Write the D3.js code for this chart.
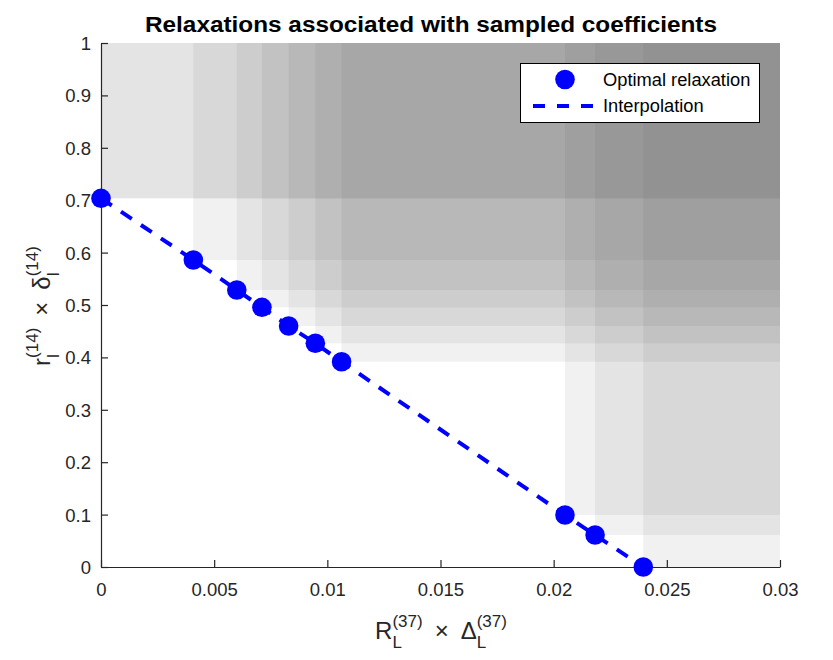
<!DOCTYPE html>
<html>
<head>
<meta charset="utf-8">
<script src="https://cdn.jsdelivr.net/npm/d3@7"></script>
<style>
  html, body { margin: 0; padding: 0; background: #fff; }
  svg { display: block; font-family: "Liberation Sans", Arial, Helvetica, sans-serif; }
</style>
</head>
<body>
<svg id="chart" width="833" height="660"></svg>
<script>
// ---------- data ----------
const relaxX = [0, 0.00408, 0.0060, 0.00711, 0.00829, 0.00947, 0.01063, 0.0205, 0.02183, 0.02396];
const relaxY = [0.7036, 0.5859, 0.5286, 0.4956, 0.4599, 0.4269, 0.3918, 0.0992, 0.061, 0];
// number of sampled coefficients associated with each relaxation
const sampleCounts = [2, 1, 1, 1, 1, 1, 1, 1, 1, 1];
const xTicks = [0, 0.005, 0.01, 0.015, 0.02, 0.025, 0.03];
const xTickLabels = ["0", "0.005", "0.01", "0.015", "0.02", "0.025", "0.03"];
const yTicks = [0, 0.1, 0.2, 0.3, 0.4, 0.5, 0.6, 0.7, 0.8, 0.9, 1];
const yTickLabels = ["0", "0.1", "0.2", "0.3", "0.4", "0.5", "0.6", "0.7", "0.8", "0.9", "1"];
const titleText = "Relaxations associated with sampled coefficients";
const legendLabels = ["Optimal relaxation", "Interpolation"];

// ---------- layout ----------
const svg = d3.select("#chart");
const L = 101, R = 780, T = 43, B = 567;
const x = d3.scaleLinear().domain([0, 0.03]).range([L, R]);
const y = d3.scaleLinear().domain([0, 1]).range([B, T]);
const axisColor = "#262626";
const blue = "#0000ff";

// ---------- shaded regions (one per sampled coefficient) ----------
const samples = [];
relaxX.forEach((xv, i) => { for (let k = 0; k < sampleCounts[i]; k++) samples.push({x: xv, y: relaxY[i]}); });
svg.append("g").selectAll("rect").data(samples).join("rect")
  .attr("x", d => x(d.x))
  .attr("y", y(1))
  .attr("width", d => x(0.03) - x(d.x))
  .attr("height", d => y(d.y) - y(1))
  .attr("fill", "rgb(75,75,75)")
  .attr("fill-opacity", 0.08);

// ---------- axes ----------
const xAxis = d3.axisBottom(x).tickValues(xTicks).tickFormat((d, i) => xTickLabels[i]).tickSizeInner(-7).tickSizeOuter(0).tickPadding(16);
const yAxis = d3.axisLeft(y).tickValues(yTicks).tickFormat((d, i) => yTickLabels[i]).tickSizeInner(-7).tickSizeOuter(0).tickPadding(10);
const gx = svg.append("g").attr("transform", `translate(0,${B})`).call(xAxis);
const gy = svg.append("g").attr("transform", `translate(${L},0)`).call(yAxis);
[gx, gy].forEach(g => {
  g.select(".domain").attr("stroke", axisColor).attr("stroke-width", 1.2);
  g.selectAll(".tick line").attr("stroke", axisColor).attr("stroke-width", 1.2);
  g.selectAll(".tick text").attr("fill", axisColor).attr("font-size", 18.5).attr("font-family", "Liberation Sans, Arial, sans-serif");
});
gx.selectAll(".tick text").attr("dy", "0.71em");
gy.selectAll(".tick text").attr("dy", "0.35em");

// ---------- interpolation line ----------
const pts = relaxX.map((xv, i) => [xv, relaxY[i]]);
svg.append("path").datum(pts)
  .attr("d", d3.line().x(d => x(d[0])).y(d => y(d[1])))
  .attr("fill", "none").attr("stroke", blue).attr("stroke-width", 4)
  .attr("stroke-dasharray", "13,11");

// ---------- markers ----------
svg.append("g").selectAll("circle").data(pts).join("circle")
  .attr("cx", d => x(d[0])).attr("cy", d => y(d[1])).attr("r", 9.8)
  .attr("fill", blue);

// ---------- title ----------
svg.append("text").attr("x", 431).attr("y", 32)
  .attr("text-anchor", "middle").attr("font-weight", "bold").attr("font-size", 22)
  .attr("fill", "#000").attr("textLength", 572).attr("lengthAdjust", "spacingAndGlyphs").text(titleText);

// ---------- TeX-like labels ----------
function texLabel(parent, parts, size, subSize) {
  const g = parent.append("g");
  let cx = 0;
  parts.forEach(p => {
    if (p.t !== undefined) {
      const t = g.append("text").attr("x", cx).attr("y", 0).attr("font-size", size).attr("fill", axisColor)
        .attr("xml:space", "preserve").style("white-space", "pre").text(p.t);
      cx += t.node().getComputedTextLength();
    } else {
      const s1 = g.append("text").attr("x", cx).attr("y", size * 0.36).attr("font-size", subSize).attr("fill", axisColor).text(p.sub);
      const s2 = g.append("text").attr("x", cx).attr("y", -size * 0.5).attr("font-size", subSize).attr("fill", axisColor).text(p.sup);
      cx += Math.max(s1.node().getComputedTextLength(), s2.node().getComputedTextLength());
    }
  });
  g.selectAll("text").attr("transform", `translate(${-cx / 2},0)`);
  return g;
}
const xl = texLabel(svg, [{t: "R"}, {sub: "L", sup: "(37)"}, {t: "\u2002×\u2002Δ"}, {sub: "L", sup: "(37)"}], 24, 17);
xl.attr("transform", `translate(${441},${639})`);
const yl = texLabel(svg, [{t: "r"}, {sub: "l", sup: "(14)"}, {t: "\u2002×\u2002δ"}, {sub: "l", sup: "(14)"}], 24, 17);
yl.attr("transform", `translate(${50},${306}) rotate(-90)`);

// ---------- legend ----------
const lg = svg.append("g");
lg.append("rect").attr("x", 520.5).attr("y", 63.5).attr("width", 239).attr("height", 59)
  .attr("fill", "#fff").attr("stroke", "#000").attr("stroke-width", 1);
lg.append("circle").attr("cx", 565).attr("cy", 79.5).attr("r", 9.8).attr("fill", blue);
lg.append("line").attr("x1", 533).attr("x2", 596).attr("y1", 106).attr("y2", 106)
  .attr("stroke", blue).attr("stroke-width", 4).attr("stroke-dasharray", "12,12");
lg.selectAll("text.lab").data(legendLabels).join("text").attr("class", "lab")
  .attr("x", 603).attr("y", (d, i) => 86 + i * 26).attr("font-size", 18.3).attr("fill", "#000").text(d => d);
</script>
</body>
</html>
